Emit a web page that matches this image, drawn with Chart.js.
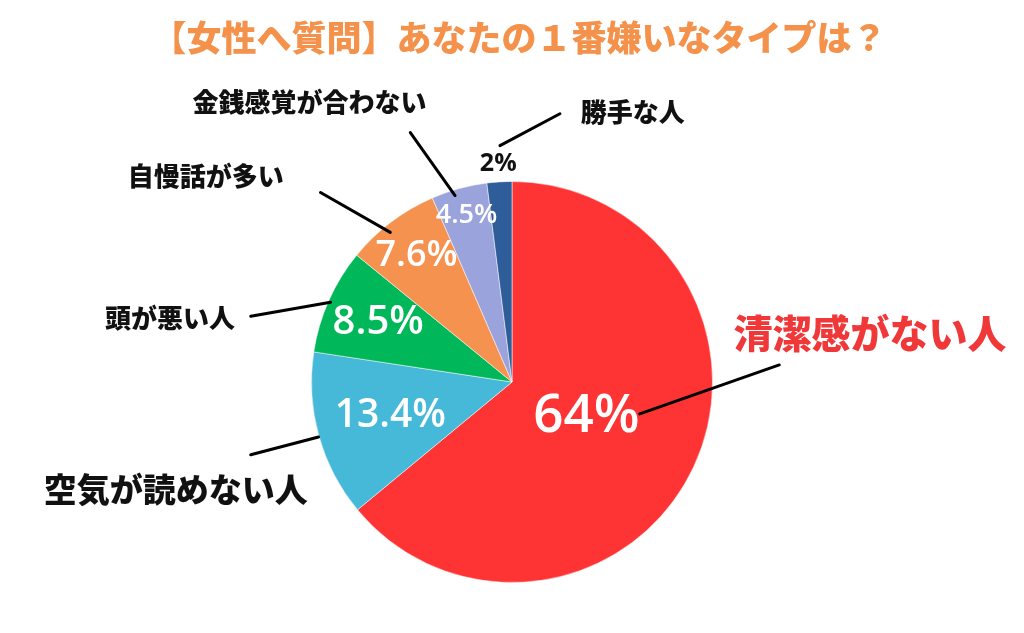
<!DOCTYPE html>
<html lang="ja">
<head>
<meta charset="utf-8">
<script src="https://cdn.jsdelivr.net/npm/chart.js@4"></script>
<style>
    html, body { margin: 0; padding: 0; background: #ffffff; }
    #wrap { width: 1024px; height: 633px; position: relative; }
</style>
</head>
<body>
<div id="wrap"><canvas id="pieChart"></canvas></div>
<script>
// Chart data
const title = '【女性へ質問】あなたの１番嫌いなタイプは？';
const categories = ['清潔感がない人', '空気が読めない人', '頭が悪い人', '自慢話が多い', '金銭感覚が合わない', '勝手な人'];
const shares = [64, 13.4, 8.5, 7.6, 4.5, 2];
const shareLabels = ['64%', '13.4%', '8.5%', '7.6%', '4.5%', '2%'];

// Styles
const sliceColors = ['#fe3434', '#46b8d8', '#00b85a', '#f5924f', '#9aa3db', '#2e5d99'];
const jpFont = '"Noto Sans CJK JP", "Noto Sans", sans-serif';
const numFont = '"Open Sans", "Noto Sans", sans-serif';

// Percentage labels: distance from centre (fraction of radius), size, colour
const pctRadius = [0.41, 0.63, 0.73, 0.79, 0.86, 1.09];
const pctSize = [53, 39, 40, 36, 27, 25];
const pctColor = ['#ffffff', '#ffffff', '#ffffff', '#ffffff', '#ffffff', '#111111'];

// Category labels: centre offset in radius units, size, colour
const labelOffset = [[1.786, -0.244], [-1.677, 0.537], [-1.706, -0.318], [-1.527, -1.025], [-1.010, -1.398], [0.602, -1.348]];
const labelSize = [39, 33, 26, 26, 26, 26];
const labelColor = ['#f03838', '#111111', '#111111', '#111111', '#111111', '#111111'];

// Leader lines in radius units: [inner, outer]
const leaders = [
    [[0.637, 0.159], [1.333, -0.085]],
    [[-0.965, 0.274], [-1.303, 0.363]],
    [[-0.905, -0.398], [-1.303, -0.328]],
    [[-0.607, -0.746], [-0.955, -0.945]],
    [[-0.284, -0.930], [-0.507, -1.244]],
    [[-0.060, -1.179], [0.239, -1.338]]
];

const annotatePlugin = {
    id: 'annotate',
    afterDatasetsDraw(chart) {
        const ctx = chart.ctx;
        const arcs = chart.getDatasetMeta(0).data;
        const cx = arcs[0].x;
        const cy = arcs[0].y;
        const r = arcs[0].outerRadius;

        ctx.save();
        ctx.textAlign = 'center';
        ctx.textBaseline = 'middle';

        // Title
        ctx.fillStyle = '#f4914a';
        ctx.font = `900 35px ${jpFont}`;
        ctx.fillText(title, 519, 38);

        // Leader lines
        ctx.strokeStyle = '#000000';
        ctx.lineWidth = 3;
        ctx.lineCap = 'round';
        leaders.forEach(([a, b]) => {
            ctx.beginPath();
            ctx.moveTo(cx + a[0] * r, cy + a[1] * r);
            ctx.lineTo(cx + b[0] * r, cy + b[1] * r);
            ctx.stroke();
        });

        // Percentages
        arcs.forEach((arc, i) => {
            const mid = (arc.startAngle + arc.endAngle) / 2;
            const x = cx + Math.cos(mid) * r * pctRadius[i];
            const y = cy + Math.sin(mid) * r * pctRadius[i];
            ctx.fillStyle = pctColor[i];
            ctx.font = `${i === 5 ? 700 : 600} ${pctSize[i]}px ${numFont}`;
            ctx.fillText(shareLabels[i], x, y);
        });

        // Category names
        categories.forEach((name, i) => {
            ctx.fillStyle = labelColor[i];
            ctx.font = `900 ${labelSize[i]}px ${jpFont}`;
            ctx.fillText(name, cx + labelOffset[i][0] * r, cy + labelOffset[i][1] * r);
        });
        ctx.restore();
    }
};

function initChart() {
    const ctx = document.getElementById('pieChart').getContext('2d');
    new Chart(ctx, {
        type: 'pie',
        data: {
            labels: categories,
            datasets: [{
                data: shares,
                backgroundColor: sliceColors,
                borderColor: 'rgba(255, 255, 255, 0.5)',
                borderWidth: 1
            }]
        },
        options: {
            responsive: true,
            maintainAspectRatio: false,
            animation: false,
            layout: {
                padding: { top: 181, bottom: 50, left: 311, right: 311 }
            },
            plugins: {
                legend: { display: false },
                tooltip: { enabled: false }
            }
        },
        plugins: [annotatePlugin]
    });
}

window.addEventListener('load', initChart);
</script>
</body>
</html>
